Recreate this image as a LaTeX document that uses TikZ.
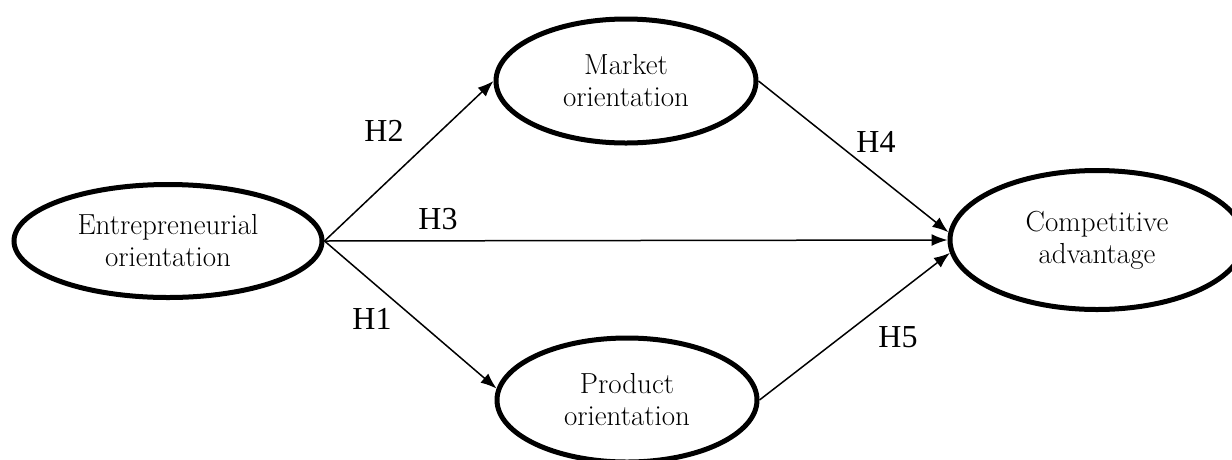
\documentclass[tikz,border=0pt]{standalone}
\usepackage{fontspec}
\usepackage{tikz}
\usetikzlibrary{arrows.meta,shapes.geometric}
\newfontfamily\hypfont{Liberation Serif}

\begin{document}
\begin{tikzpicture}[
    x=1pt,y=-1pt,
    construct/.style={ellipse,draw,line width=5pt,fill=white,inner sep=0pt,
                      align=center,font=\fontsize{29}{32}\selectfont},
    arrow/.style={-{Latex[length=16pt,width=12pt]},line width=1.5pt},
    hyp/.style={inner sep=0pt,font=\hypfont\fontsize{32}{32}\selectfont}
  ]
    \clip (0,0) rectangle (1232,459);
    \fill[white] (0,0) rectangle (1232,459);
    % constructs
    \node[construct,minimum width=308pt,minimum height=113pt] (eo) at (168,241) {Entrepreneurial\\orientation};
    \node[construct,minimum width=260pt,minimum height=124pt] (mo) at (626,81) {Market\\orientation};
    \node[construct,minimum width=260pt,minimum height=124pt] (po) at (627,400) {Product\\orientation};
    \node[construct,minimum width=294pt,minimum height=139pt] (ca) at (1097,240) {Competitive\\advantage};
    % hypotheses
    \draw[arrow] (eo.east) -- (mo.west);
    \draw[arrow] (eo.east) -- (ca.west);
    \draw[arrow] (eo.east) -- (po.175);
    \draw[arrow] (mo.east) -- (ca.177);
    \draw[arrow] (po.east) -- (ca.185);
    \node[hyp] (h1) at (372,319) {H1};
    \node[hyp] (h2) at (384,131) {H2};
    \node[hyp] (h3) at (438,219) {H3};
    \node[hyp] (h4) at (876,142) {H4};
    \node[hyp] (h5) at (898,337) {H5};
\end{tikzpicture}
\end{document}
